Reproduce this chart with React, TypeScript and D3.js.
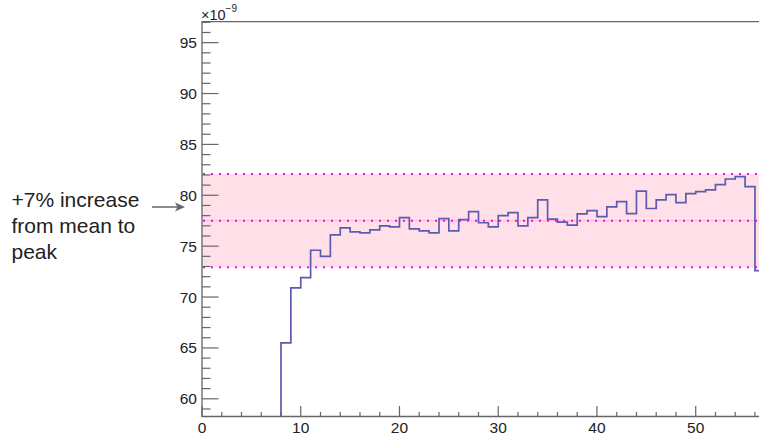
import React, { useRef, useEffect } from 'react';
import * as d3 from 'd3';

// one value per unit-wide bin, starting at x = 8 (earlier bins are below the y range)
const firstBin = 8;
const binValues = [
  65.5, 70.9, 71.9, 74.6, 74.0, 76.1, 76.8, 76.4, 76.3, 76.6,
  77.0, 76.9, 77.8, 76.7, 76.5, 76.3, 77.7, 76.5, 77.6, 78.4,
  77.3, 76.9, 78.0, 78.3, 77.0, 77.8, 79.55, 77.65, 77.36, 77.06,
  78.17, 78.5, 77.9, 78.86, 79.38, 78.2, 80.4, 78.7, 79.55, 80.07,
  79.28, 80.17, 80.36, 80.53, 81.05, 81.6, 81.84, 80.86, 72.6,
];

// pink band: low / mean / high levels
const bandLevels = [72.92, 77.5, 82.09];

const xTicks = [0, 10, 20, 30, 40, 50];
const yTicks = [60, 65, 70, 75, 80, 85, 90, 95];
const noteLines = ['+7% increase', 'from mean to', 'peak'];

const FONT = '"Liberation Sans", Arial, Helvetica, sans-serif';

function App() {
  const svgRef = useRef(null);

  useEffect(() => {
    const left = 202;
    const top = 21.7;
    const bottom = 416.5;
    const right = 759;

    const svg = d3.select(svgRef.current);
    svg.selectAll('*').remove();

    const x = d3.scaleLinear().domain([0, 56.41]).range([left, right]);
    const y = d3.scaleLinear().domain([58.26, 97.06]).range([bottom, top]);

    svg.append('defs')
      .append('clipPath')
      .attr('id', 'plot-clip')
      .append('rect')
      .attr('x', left)
      .attr('y', top)
      .attr('width', right - left)
      .attr('height', bottom - top);

    // band
    svg.append('rect')
      .attr('x', left)
      .attr('y', y(bandLevels[2]))
      .attr('width', right - left)
      .attr('height', y(bandLevels[0]) - y(bandLevels[2]))
      .attr('fill', '#ffe0e8');

    svg.append('line')
      .attr('x1', left).attr('x2', right)
      .attr('y1', y(bandLevels[1])).attr('y2', y(bandLevels[1]))
      .attr('stroke', '#f6bccb')
      .attr('stroke-width', 1);

    // histogram outline
    const pts: [number, number][] = [[firstBin, 58.26]];
    binValues.forEach((v, i) => pts.push([firstBin + i, v]));
    pts.push([firstBin + binValues.length, binValues[binValues.length - 1]]);

    const line = d3.line<[number, number]>()
      .x(d => x(d[0]))
      .y(d => y(d[1]))
      .curve(d3.curveStepAfter);

    svg.append('path')
      .datum(pts)
      .attr('clip-path', 'url(#plot-clip)')
      .attr('d', line)
      .attr('fill', 'none')
      .attr('stroke', '#5b5bb0')
      .attr('stroke-width', 1.7);

    // dotted levels
    svg.selectAll('line.level')
      .data(bandLevels)
      .enter()
      .append('line')
      .attr('class', 'level')
      .attr('x1', left + 1).attr('x2', right)
      .attr('y1', d => y(d)).attr('y2', d => y(d))
      .attr('stroke', '#ff00ff')
      .attr('stroke-width', 2)
      .attr('stroke-dasharray', '2 6');

    const axisColor = '#666';

    // frame: top, left, bottom
    svg.append('path')
      .attr('d', `M${right},${top}H${left}V${bottom}H${right}`)
      .attr('fill', 'none')
      .attr('stroke', axisColor)
      .attr('stroke-width', 1.3);

    // y ticks
    const yMinor = d3.range(59, 98, 1).filter(v => v % 5 !== 0);
    svg.selectAll('line.ymin')
      .data(yMinor)
      .enter()
      .append('line')
      .attr('x1', left).attr('x2', left + 8.5)
      .attr('y1', d => y(d)).attr('y2', d => y(d))
      .attr('stroke', axisColor)
      .attr('stroke-width', 1.2);

    svg.selectAll('line.ymaj')
      .data(yTicks)
      .enter()
      .append('line')
      .attr('x1', left).attr('x2', left + 16.5)
      .attr('y1', d => y(d)).attr('y2', d => y(d))
      .attr('stroke', axisColor)
      .attr('stroke-width', 1.2);

    svg.selectAll('text.ylab')
      .data(yTicks)
      .enter()
      .append('text')
      .attr('x', left - 5)
      .attr('y', d => y(d))
      .attr('dy', '0.36em')
      .attr('text-anchor', 'end')
      .attr('font-family', FONT)
      .attr('font-size', 15.5)
      .attr('fill', '#222')
      .text(d => d);

    // x ticks
    const xMinor = d3.range(0, 57, 2).filter(v => v % 10 !== 0);
    svg.selectAll('line.xmin')
      .data(xMinor)
      .enter()
      .append('line')
      .attr('x1', d => x(d)).attr('x2', d => x(d))
      .attr('y1', bottom).attr('y2', bottom - 4.5)
      .attr('stroke', axisColor)
      .attr('stroke-width', 1.2);

    svg.selectAll('line.xmaj')
      .data(xTicks)
      .enter()
      .append('line')
      .attr('x1', d => x(d)).attr('x2', d => x(d))
      .attr('y1', bottom).attr('y2', bottom - 10.5)
      .attr('stroke', axisColor)
      .attr('stroke-width', 1.2);

    svg.selectAll('text.xlab')
      .data(xTicks)
      .enter()
      .append('text')
      .attr('x', d => x(d))
      .attr('y', 433)
      .attr('text-anchor', 'middle')
      .attr('font-family', FONT)
      .attr('font-size', 15.5)
      .attr('fill', '#222')
      .text(d => d);

    // exponent label
    const expo = svg.append('text')
      .attr('x', left - 1)
      .attr('y', 19.5)
      .attr('font-family', FONT)
      .attr('font-size', 14.5)
      .attr('fill', '#222');
    expo.append('tspan').text('\u00d710');
    expo.append('tspan')
      .attr('dy', -7.5)
      .attr('font-size', 10)
      .text('\u22129');

    // annotation
    svg.selectAll('text.note')
      .data(noteLines)
      .enter()
      .append('text')
      .attr('x', 11.5)
      .attr('y', (d, i) => 206.5 + i * 26.3)
      .attr('font-family', FONT)
      .attr('font-size', 21)
      .attr('fill', '#222')
      .text(d => d);

    svg.append('line')
      .attr('x1', 152).attr('x2', 181)
      .attr('y1', 207).attr('y2', 207)
      .attr('stroke', '#666')
      .attr('stroke-width', 1.5);

    svg.append('path')
      .attr('d', 'M185,207 L175,202.5 L177.5,207 L175,211.5 Z')
      .attr('fill', '#666');
  }, []);

  return (
    <svg
      ref={svgRef}
      width={759}
      height={437}
      style={{ position: 'absolute', left: 0, top: 0, background: '#fff' }}
    />
  );
}

export default App;
